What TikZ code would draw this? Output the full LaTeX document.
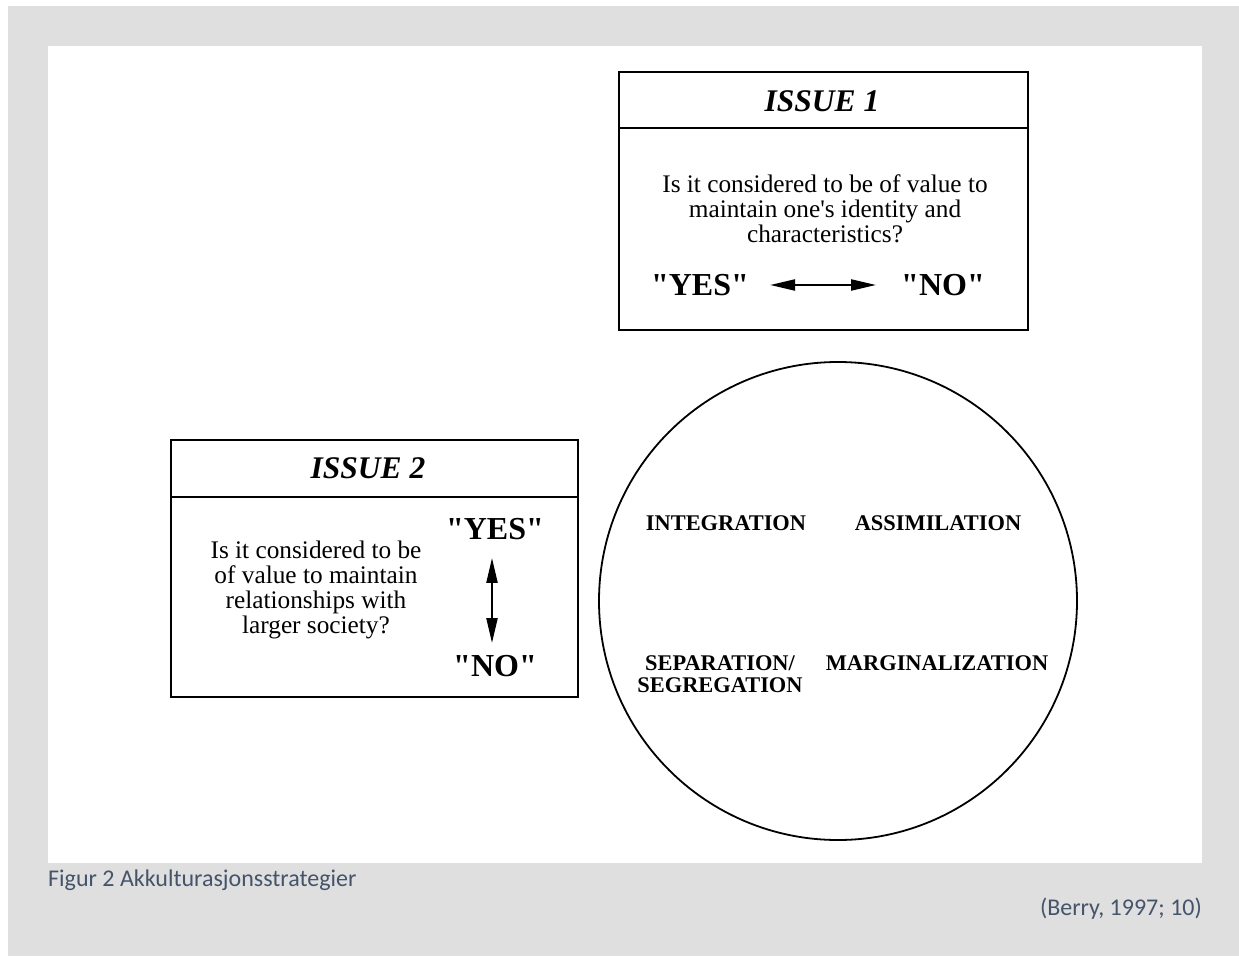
\documentclass[tikz,border=0pt]{standalone}
\usepackage{fontspec}
\setmainfont{Liberation Serif}[Ligatures=TeXOff]
\newfontfamily\capfont{Carlito}
\usetikzlibrary{arrows.meta}
\definecolor{bggray}{RGB}{224,223,223}
\definecolor{capblue}{RGB}{68,84,106}
\begin{document}
\begin{tikzpicture}[x=1pt,y=-1pt,
  frame/.style={draw=black, line width=1.8pt, inner sep=0pt},
  divider/.style={draw=black, line width=1.8pt},
  body/.style={font=\fontsize{25.3}{25}\selectfont, align=center, inner sep=0pt},
  title/.style={font=\fontsize{31.5}{34}\selectfont\bfseries\itshape, inner sep=0pt},
  ans/.style={font=\fontsize{32}{34}\selectfont\bfseries, inner sep=0pt},
  strat/.style={font=\fontsize{22.4}{22.5}\selectfont\bfseries, align=center, inner sep=0pt},
  captext/.style={font=\capfont\fontsize{24}{28}\selectfont, text=capblue, inner sep=0pt},
  dblarrow/.style={line width=2.2pt, {Triangle[length=25pt,width=11pt]}-{Triangle[length=25pt,width=11pt]}}
]
\useasboundingbox (0,0) rectangle (1239,957);
\fill[white] (0,0) rectangle (1239,957);
\fill[bggray] (8,6) rectangle (1239,956);
\fill[white] (48,46) rectangle (1202,863);

% Issue 1
\node[frame, minimum width=409pt, minimum height=258pt, anchor=north west] (box1) at (618,71) {};
\draw[divider] (box1.west |- 0,128) -- (box1.east |- 0,128);
\node[title] (t1) at (822,101) {ISSUE 1};
\node[body] (q1) at (825,209) {Is it considered to be of value to\\maintain one's identity and\\characteristics?};
\node[ans] (yes1) at (700,285) {"YES"};
\node[ans] (no1) at (943,285) {"NO"};
\draw[dblarrow] ([xshift=21pt]yes1.east) -- ([xshift=-25pt]no1.west);

% Issue 2
\node[frame, minimum width=407pt, minimum height=257pt, anchor=north west] (box2) at (170,439) {};
\draw[divider] (box2.west |- 0,497) -- (box2.east |- 0,497);
\node[title] (t2) at (368,468) {ISSUE 2};
\node[body] (q2) at (316,590) {Is it considered to be\\of value to maintain\\relationships with\\larger society?};
\node[ans] (yes2) at (495,529) {"YES"};
\node[ans] (no2) at (495,666) {"NO"};
\draw[dblarrow] ([yshift=-18pt]yes2.south -| 492,0) -- ([yshift=12pt]no2.north -| 492,0);

% Circle
\node[draw=black, circle, line width=1.8pt, minimum size=478pt, inner sep=0pt] (circ) at (838,601) {};
\node[strat] (integ) at (726,523) {INTEGRATION};
\node[strat] (assim) at (938,523) {ASSIMILATION};
\node[strat] (separ) at (720,674) {SEPARATION/\\SEGREGATION};
\node[strat] (margi) at (937,663) {MARGINALIZATION};

% Captions
\node[captext, anchor=base west] (fig) at (48,886) {Figur 2 Akkulturasjonsstrategier};
\node[captext, anchor=base east] (src) at (1202,915) {(Berry, 1997; 10)};
\end{tikzpicture}
\end{document}
